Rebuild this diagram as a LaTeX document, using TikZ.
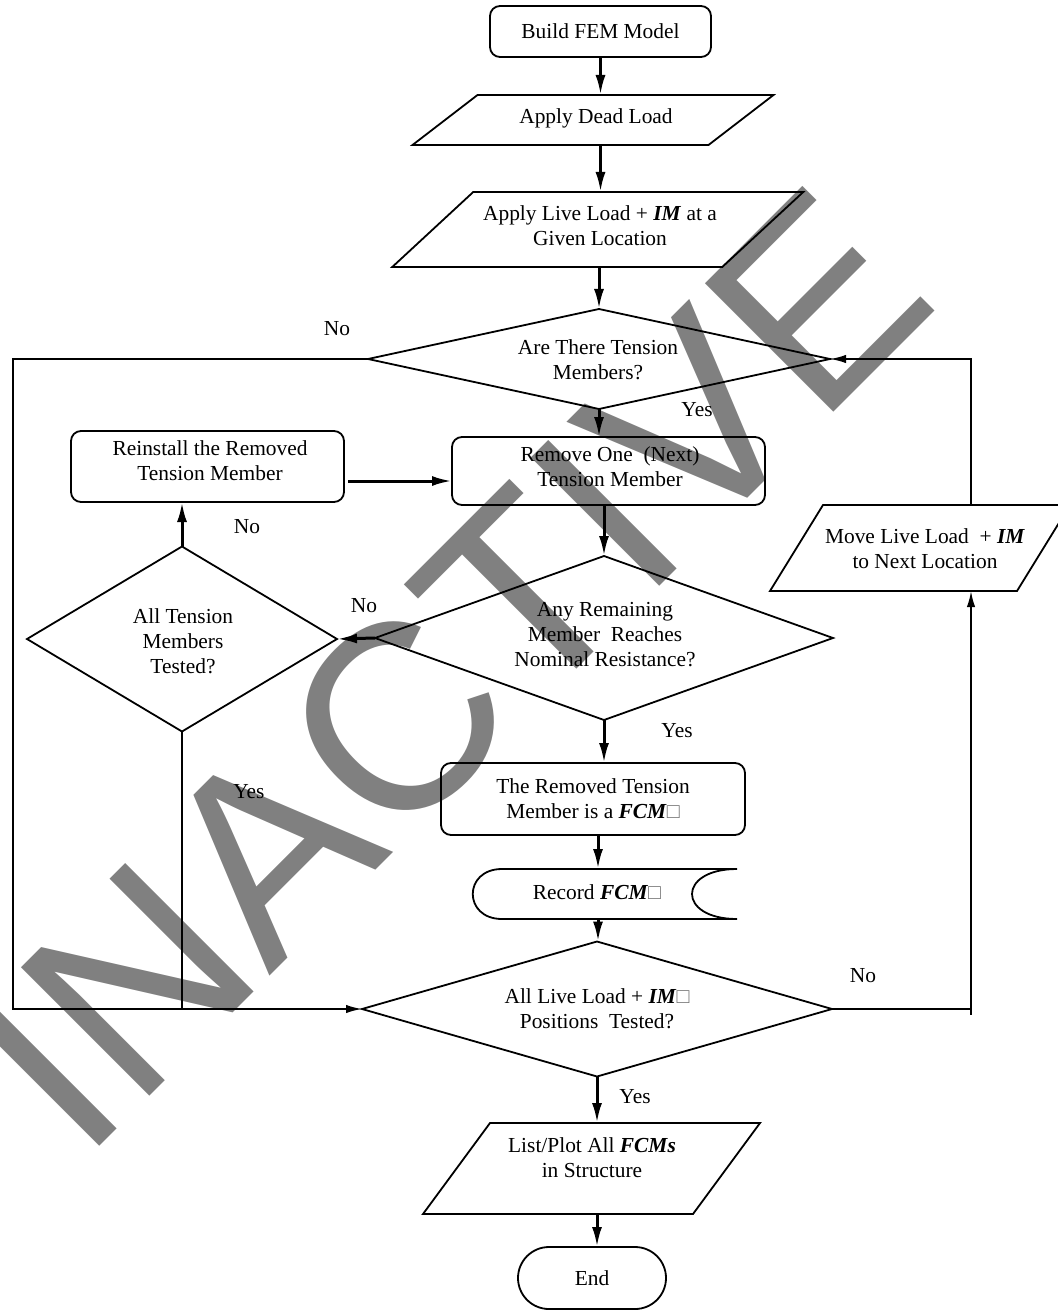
\documentclass[tikz,border=0pt]{standalone}
\usepackage{fontspec}
\setmainfont{Liberation Serif}
\newfontfamily\wmfont{Liberation Sans}
\usetikzlibrary{shapes.geometric,shapes.misc,arrows.meta,calc}
\newcommand\fs{\fontsize{10.7pt}{12.5pt}\selectfont}
\newcommand\bi[1]{\textbf{\textit{#1}}}
\newcommand\sq{{\color{black!55}□}}
\newcommand\drawpara[2]{\draw[shp] ($(#1.south west)+(-#2,0)$) -- ($(#1.south east)+(-#2,0)$) -- ($(#1.north east)+(#2,0)$) -- ($(#1.north west)+(#2,0)$) -- cycle;}
\begin{document}
\begin{tikzpicture}[x=0.5pt,y=-0.5pt,
  shp/.style={draw=black, line width=0.9pt},
  box/.style={shp, rounded corners=5pt, inner sep=0pt, outer sep=0pt, font=\fs, align=center},
  dia/.style={shp, diamond, inner sep=0pt, outer sep=0pt},
  fr/.style={inner sep=0pt, outer sep=0pt, draw=none},
  txt/.style={font=\fs, align=center, inner sep=1pt},
  lbl/.style={font=\fs, inner sep=1pt},
  arr/.style={line width=1.5pt, -{Latex[length=10pt,width=5pt]}},
  lp/.style={line width=0.9pt},
  lparr/.style={lp, -{Latex[length=8pt,width=4.2pt]}},
]
\useasboundingbox (0,0) rectangle (1058,1310);
\clip (0,0) rectangle (1058,1310);

% watermark
\node[font=\wmfont\fontsize{132pt}{132pt}\selectfont, text=black!50, anchor=base, rotate=45, inner sep=0pt] (wm) at (513,733) {INACTIVE};

% helper coordinates
\coordinate (ax) at (598,0);
\coordinate (rx) at (971,0);
\coordinate (lx) at (13,0);
\coordinate (ry) at (0,481);

% shapes
\node[box, minimum width=110.5pt, minimum height=25.5pt] (b1) at (600.5,31.5) {Build FEM Model};

\node[fr, minimum width=148pt, minimum height=25pt] (p1) at (593,120) {};
\drawpara{p1}{32.5}
\node[txt] (p1t) at (596,118) {Apply Dead Load};

\node[fr, minimum width=165pt, minimum height=37.5pt] (p2) at (597.75,229.5) {};
\drawpara{p2}{40.5}
\node[txt] (p2t) at (600,226) {Apply Live Load + \bi{IM} at a\\Given Location};

\node[dia, minimum width=231pt, minimum height=50pt] (d1) at (599,359) {};
\node[txt] (d1t) at (598,360) {Are There Tension\\Members?};

\node[box, minimum width=156.5pt, minimum height=34pt] (rem) at (608.5,471) {};
\node[txt] (remt) at (610,467) {Remove One\ \ (Next)\\Tension Member};

\node[box, minimum width=136.5pt, minimum height=35.5pt] (rein) at (207.5,466.5) {};
\node[txt] (reint) at (210,461) {Reinstall the Removed\\Tension Member};

\node[dia, minimum width=229pt, minimum height=82pt] (d2) at (604,638) {};
\node[txt] (d2t) at (605,635) {Any Remaining\\Member\ \ Reaches\\Nominal Resistance?};

\node[dia, minimum width=155pt, minimum height=92.5pt] (d3) at (182,639) {};
\node[txt] (d3t) at (183,641) {All Tension\\Members\\Tested?};

\node[fr, minimum width=123.5pt, minimum height=43pt] (p3) at (920,548) {};
\drawpara{p3}{26.5}
\node[txt] (p3t) at (925,549) {Move Live Load\ \ + \bi{IM}\\to Next Location};

\node[box, minimum width=152pt, minimum height=36pt] (fcm) at (593,799) {The Removed Tension\\Member is a \bi{FCM}\sq};

\node[fr, minimum width=117.5pt, minimum height=25pt] (rec) at (619.5,894) {};
\draw[shp] (rec.north east) -- (rec.north west) .. controls +(-39,0) and +(-39,0) .. (rec.south west) -- (rec.south east) .. controls +(-60,0) and +(-60,0) .. (rec.north east);
\node[txt] (rect) at (597,892) {Record \bi{FCM}\sq};

\node[dia, minimum width=235pt, minimum height=67.5pt] (d4) at (597,1009) {};
\node[txt] (d4t) at (597,1009) {All Live Load + \bi{IM}\sq\\Positions\ \ Tested?};

\node[fr, minimum width=135pt, minimum height=45.5pt] (p4) at (591.5,1168.5) {};
\drawpara{p4}{33.5}
\node[txt] (p4t) at (592,1158) {List/Plot All \bi{FCMs}\\in Structure};

\node[shp, rounded rectangle, minimum width=74pt, minimum height=31pt, inner sep=0pt, outer sep=0pt, font=\fs] (endn) at (592,1278) {End};

% connectors
\draw[arr] (b1.south) -- (b1.south |- p1.north);
\draw[arr] (b1.south |- p1.south) -- (b1.south |- p2.north);
\draw[arr] (d1.north |- p2.south) -- (d1.north);
\draw[arr] (d1.south) -- (d1.south |- rem.north);
\draw[arr] (d2.north |- rem.south) -- (d2.north);
\draw[arr] (d2.west) -- (d3.east);
\draw[arr] (d3.north) -- (d3.north |- rein.south);
\draw[arr] ($(rein.east |- ry)+(4,0)$) -- (rem.west |- ry);
\draw[arr] (d2.south) -- (d2.south |- fcm.north);
\draw[arr] (ax |- fcm.south) -- (ax |- rec.north);
\draw[arr] (ax |- rec.south) -- (ax |- d4.north);
\draw[arr] (d4.south) -- (d4.south |- p4.north);
\draw[arr] (d4.south |- p4.south) -- (d4.south |- endn.north);
\draw[lparr] (d4.east) -| (rx |- p3.south);
\draw[lp] (rx |- d4.east) -- ++(0,6);
\draw[lparr] (rx |- p3.north) |- (d1.east);
\draw[lparr] (d1.west) -| (lx |- d4.west) -- (d4.west);
\draw[lp] (d3.south) -- (d3.south |- d4.west);

% labels
\node[lbl] (l1) at (337,329) {No};
\node[lbl] (l2) at (697,410) {Yes};
\node[lbl] (l3) at (247,527) {No};
\node[lbl] (l4) at (364,606) {No};
\node[lbl] (l5) at (677,731) {Yes};
\node[lbl] (l6) at (249,792) {Yes};
\node[lbl] (l7) at (635,1097) {Yes};
\node[lbl] (l8) at (863,976) {No};
\end{tikzpicture}
\end{document}
